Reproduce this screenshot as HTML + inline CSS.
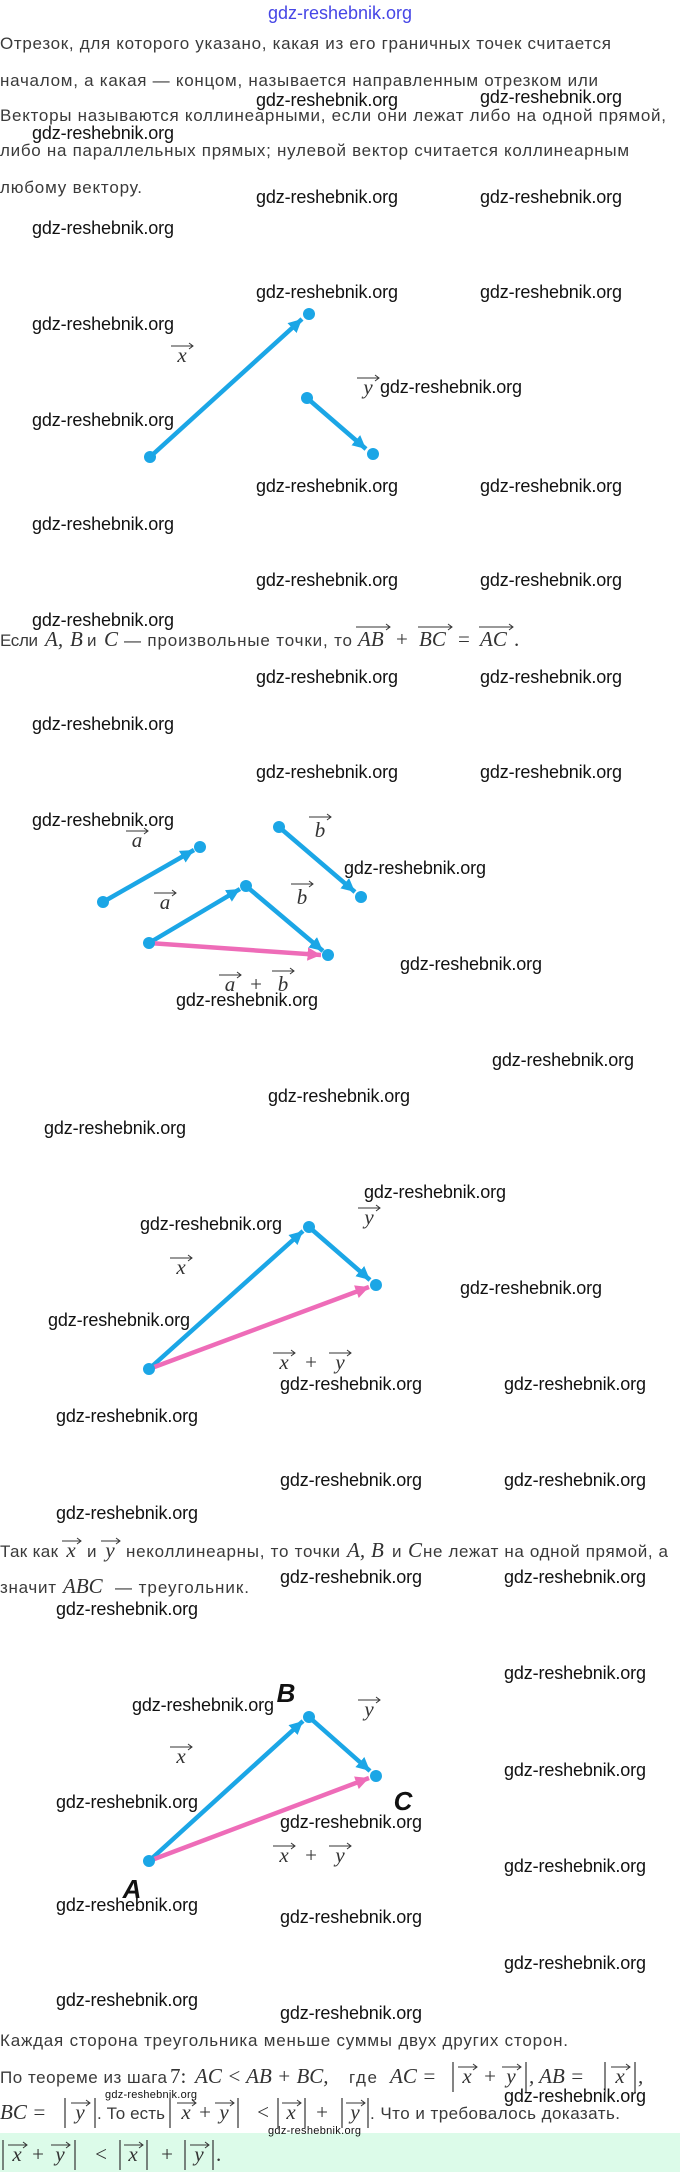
<!DOCTYPE html>
<html><head><meta charset="utf-8"><style>
html,body{margin:0;padding:0;background:#fff}
svg{display:block}
.t{font-family:"Liberation Sans",sans-serif;font-size:17px;fill:#3a3a3a}
.w{font-family:"Liberation Sans",sans-serif;font-size:18px;fill:#111}
.ws{font-family:"Liberation Sans",sans-serif;font-size:11px;fill:#111}
.m{font-family:"Liberation Serif",serif;font-style:italic;font-size:21px;fill:#333}
.mu{font-family:"Liberation Serif",serif;font-size:21px;fill:#333}
.lb{font-family:"Liberation Sans",sans-serif;font-style:italic;font-weight:bold;font-size:26px;fill:#111}
.ar{stroke:#333;stroke-width:1;fill:none}
.bar{stroke:#333;stroke-width:1.2}
</style></head><body>
<svg width="680" height="2172" viewBox="0 0 680 2172" xmlns="http://www.w3.org/2000/svg">
<defs>
<marker id="hb" viewBox="0 0 10 10" refX="10" refY="5" markerWidth="3" markerHeight="3" orient="auto" markerUnits="strokeWidth"><path d="M0 0 L10 5 L0 10 z" fill="#1ba6e6"/></marker>
<marker id="hp" viewBox="0 0 10 10" refX="10" refY="5" markerWidth="3" markerHeight="3" orient="auto" markerUnits="strokeWidth"><path d="M0 0 L10 5 L0 10 z" fill="#ee6cb8"/></marker>
</defs>
<rect x="0" y="2133" width="680" height="39" fill="#dcfbe9"/>

<text x="340" y="19" text-anchor="middle" font-family="Liberation Sans" font-size="18" fill="#4646e6" textLength="144">gdz-reshebnik.org</text>

<text class="t" x="0" y="49" textLength="611">Отрезок, для которого указано, какая из его граничных точек считается</text>
<text class="t" x="0" y="86" textLength="598">началом, а какая — концом, называется направленным отрезком или</text>
<text class="t" x="0" y="121" textLength="666">Векторы называются коллинеарными, если они лежат либо на одной прямой,</text>
<text class="t" x="0" y="156" textLength="629">либо на параллельных прямых; нулевой вектор считается коллинеарным</text>
<text class="t" x="0" y="193" textLength="142">любому вектору.</text>

<!-- fig1 -->
<g stroke="#1ba6e6" stroke-width="4.5" fill="#1ba6e6">
<line x1="150" y1="457" x2="302" y2="319" marker-end="url(#hb)"/>
<line x1="307" y1="398" x2="366" y2="449" marker-end="url(#hb)"/>
<circle cx="150" cy="457" r="6" stroke="none"/><circle cx="309" cy="314" r="6" stroke="none"/>
<circle cx="307" cy="398" r="6" stroke="none"/><circle cx="373" cy="454" r="6" stroke="none"/>
</g>
<text class="m" x="182" y="362" text-anchor="middle">x</text><path class="ar" d="M171 346 H193 M189 343 L193 346 L189 349"/>
<text class="m" x="368" y="394" text-anchor="middle">y</text><path class="ar" d="M357 378 H379 M375 375 L379 378 L375 381"/>

<text class="t" x="0" y="646" textLength="38">Если</text>
<text class="m" x="45" y="646">A,</text><text class="m" x="70" y="646">B</text>
<text class="t" x="87" y="646">и</text><text class="m" x="104" y="646">C</text>
<text class="t" x="124" y="646" textLength="228">— произвольные точки, то</text>
<text class="m" x="358" y="646">AB</text><path class="ar" d="M356 627 H390 M386 624 L390 627 L386 630"/>
<text class="mu" x="396" y="646">+</text>
<text class="m" x="419" y="646">BC</text><path class="ar" d="M418 627 H452 M448 624 L452 627 L448 630"/>
<text class="mu" x="458" y="646">=</text>
<text class="m" x="480" y="646">AC</text><path class="ar" d="M479 627 H513 M509 624 L513 627 L509 630"/>
<text class="mu" x="514" y="646">.</text>

<!-- fig2 -->
<g stroke-width="4.5">
<line x1="103" y1="902" x2="194" y2="850" stroke="#1ba6e6" marker-end="url(#hb)"/>
<line x1="279" y1="827" x2="355" y2="892" stroke="#1ba6e6" marker-end="url(#hb)"/>
<line x1="149" y1="943" x2="240" y2="889" stroke="#1ba6e6" marker-end="url(#hb)"/>
<line x1="246" y1="886" x2="323" y2="951" stroke="#1ba6e6" marker-end="url(#hb)"/>
<line x1="149" y1="943" x2="321" y2="955" stroke="#ee6cb8" marker-end="url(#hp)"/>
</g>
<g fill="#1ba6e6">
<circle cx="103" cy="902" r="6"/><circle cx="200" cy="847" r="6"/>
<circle cx="279" cy="827" r="6"/><circle cx="361" cy="897" r="6"/>
<circle cx="149" cy="943" r="6"/><circle cx="246" cy="886" r="6"/><circle cx="328" cy="955" r="6"/>
</g>
<text class="m" x="137" y="847" text-anchor="middle">a</text><path class="ar" d="M126 831 H148 M144 828 L148 831 L144 834"/>
<text class="m" x="165" y="909" text-anchor="middle">a</text><path class="ar" d="M154 893 H176 M172 890 L176 893 L172 896"/>
<text class="m" x="320" y="837" text-anchor="middle">b</text><path class="ar" d="M309 817 H331 M327 814 L331 817 L327 820"/>
<text class="m" x="302" y="904" text-anchor="middle">b</text><path class="ar" d="M291 884 H313 M309 881 L313 884 L309 887"/>
<text class="m" x="230" y="991" text-anchor="middle">a</text><path class="ar" d="M219 975 H241 M237 972 L241 975 L237 978"/>
<text class="mu" x="256" y="991" text-anchor="middle">+</text>
<text class="m" x="283" y="991" text-anchor="middle">b</text><path class="ar" d="M272 971 H294 M290 968 L294 971 L290 974"/>

<!-- fig3 -->
<g stroke-width="4.5">
<line x1="149" y1="1369" x2="303" y2="1231" stroke="#1ba6e6" marker-end="url(#hb)"/>
<line x1="309" y1="1227" x2="370" y2="1280" stroke="#1ba6e6" marker-end="url(#hb)"/>
<line x1="149" y1="1369" x2="369" y2="1287" stroke="#ee6cb8" marker-end="url(#hp)"/>
</g>
<g fill="#1ba6e6"><circle cx="149" cy="1369" r="6"/><circle cx="309" cy="1227" r="6"/><circle cx="376" cy="1285" r="6"/></g>
<text class="m" x="181" y="1274" text-anchor="middle">x</text><path class="ar" d="M170 1258 H192 M188 1255 L192 1258 L188 1261"/>
<text class="m" x="369" y="1224" text-anchor="middle">y</text><path class="ar" d="M358 1208 H380 M376 1205 L380 1208 L376 1211"/>
<text class="m" x="284" y="1369" text-anchor="middle">x</text><path class="ar" d="M273 1353 H295 M291 1350 L295 1353 L291 1356"/>
<text class="mu" x="311" y="1369" text-anchor="middle">+</text>
<text class="m" x="340" y="1369" text-anchor="middle">y</text><path class="ar" d="M329 1353 H351 M347 1350 L351 1353 L347 1356"/>

<text class="t" x="0" y="1557" textLength="58">Так как</text>
<text class="m" x="71" y="1557" text-anchor="middle">x</text><path class="ar" d="M62 1541 H81 M77 1538 L81 1541 L77 1544"/>
<text class="t" x="87" y="1557">и</text>
<text class="m" x="110" y="1557" text-anchor="middle">y</text><path class="ar" d="M101 1541 H120 M116 1538 L120 1541 L116 1544"/>
<text class="t" x="126" y="1557" textLength="214">неколлинеарны, то точки</text>
<text class="m" x="347" y="1557">A,</text><text class="m" x="371" y="1557">B</text>
<text class="t" x="392" y="1557">и</text><text class="m" x="408" y="1557">C</text>
<text class="t" x="423" y="1557" textLength="245">не лежат на одной прямой, а</text>
<text class="t" x="0" y="1593" textLength="56">значит</text>
<text class="m" x="63" y="1593">ABC</text>
<text class="t" x="115" y="1593" textLength="134">— треугольник.</text>

<!-- fig4 -->
<g stroke-width="4.5">
<line x1="149" y1="1861" x2="303" y2="1721" stroke="#1ba6e6" marker-end="url(#hb)"/>
<line x1="309" y1="1717" x2="370" y2="1771" stroke="#1ba6e6" marker-end="url(#hb)"/>
<line x1="149" y1="1861" x2="369" y2="1778" stroke="#ee6cb8" marker-end="url(#hp)"/>
</g>
<g fill="#1ba6e6"><circle cx="149" cy="1861" r="6"/><circle cx="309" cy="1717" r="6"/><circle cx="376" cy="1776" r="6"/></g>
<text class="lb" x="286" y="1702" text-anchor="middle">B</text>
<text class="lb" x="403" y="1810" text-anchor="middle">C</text>
<text class="lb" x="132" y="1898" text-anchor="middle">A</text>
<text class="m" x="181" y="1763" text-anchor="middle">x</text><path class="ar" d="M170 1747 H192 M188 1744 L192 1747 L188 1750"/>
<text class="m" x="369" y="1716" text-anchor="middle">y</text><path class="ar" d="M358 1700 H380 M376 1697 L380 1700 L376 1703"/>
<text class="m" x="284" y="1862" text-anchor="middle">x</text><path class="ar" d="M273 1846 H295 M291 1843 L295 1846 L291 1849"/>
<text class="mu" x="311" y="1862" text-anchor="middle">+</text>
<text class="m" x="340" y="1862" text-anchor="middle">y</text><path class="ar" d="M329 1846 H351 M347 1843 L351 1846 L347 1849"/>

<!-- final text -->
<text class="t" x="0" y="2046" textLength="568">Каждая сторона треугольника меньше суммы двух других сторон.</text>
<text class="t" x="0" y="2083" textLength="167">По теореме из шага</text>
<text class="mu" x="170" y="2083">7:</text>
<text class="m" x="195" y="2083">AC &lt; AB + BC,</text>
<text class="t" x="349" y="2083" textLength="28">где</text>
<text class="m" x="390" y="2083">AC =</text>
<line class="bar" x1="453" y1="2062" x2="453" y2="2092"/>
<text class="m" x="467" y="2083" text-anchor="middle">x</text><path class="ar" d="M458 2067 H477 M473 2064 L477 2067 L473 2070"/>
<text class="mu" x="490" y="2083" text-anchor="middle">+</text>
<text class="m" x="511" y="2083" text-anchor="middle">y</text><path class="ar" d="M502 2067 H521 M517 2064 L521 2067 L517 2070"/>
<line class="bar" x1="526" y1="2062" x2="526" y2="2092"/>
<text class="m" x="529" y="2083">, AB =</text>
<line class="bar" x1="605" y1="2062" x2="605" y2="2092"/>
<text class="m" x="620" y="2083" text-anchor="middle">x</text><path class="ar" d="M611 2067 H630 M626 2064 L630 2067 L626 2070"/>
<line class="bar" x1="635" y1="2062" x2="635" y2="2092"/>
<text class="m" x="638" y="2083">,</text>

<text class="m" x="0" y="2119">BC =</text>
<line class="bar" x1="65" y1="2098" x2="65" y2="2128"/>
<text class="m" x="80" y="2119" text-anchor="middle">y</text><path class="ar" d="M71 2103 H90 M86 2100 L90 2103 L86 2106"/>
<line class="bar" x1="95" y1="2098" x2="95" y2="2128"/>
<text class="t" x="97" y="2119" textLength="68">. То есть</text>
<line class="bar" x1="170" y1="2098" x2="170" y2="2128"/>
<text class="m" x="186" y="2119" text-anchor="middle">x</text><path class="ar" d="M177 2103 H196 M192 2100 L196 2103 L192 2106"/>
<text class="mu" x="205" y="2119" text-anchor="middle">+</text>
<text class="m" x="224" y="2119" text-anchor="middle">y</text><path class="ar" d="M215 2103 H234 M230 2100 L234 2103 L230 2106"/>
<line class="bar" x1="238" y1="2098" x2="238" y2="2128"/>
<text class="mu" x="263" y="2119" text-anchor="middle">&lt;</text>
<line class="bar" x1="278" y1="2098" x2="278" y2="2128"/>
<text class="m" x="291" y="2119" text-anchor="middle">x</text><path class="ar" d="M282 2103 H301 M297 2100 L301 2103 L297 2106"/>
<line class="bar" x1="305" y1="2098" x2="305" y2="2128"/>
<text class="mu" x="322" y="2119" text-anchor="middle">+</text>
<line class="bar" x1="342" y1="2098" x2="342" y2="2128"/>
<text class="m" x="355" y="2119" text-anchor="middle">y</text><path class="ar" d="M346 2103 H365 M361 2100 L365 2103 L361 2106"/>
<line class="bar" x1="368" y1="2098" x2="368" y2="2128"/>
<text class="t" x="370" y="2119" textLength="250">. Что и требовалось доказать.</text>

<line class="bar" x1="3" y1="2140" x2="3" y2="2170"/>
<text class="m" x="17" y="2161" text-anchor="middle">x</text><path class="ar" d="M8 2145 H27 M23 2142 L27 2145 L23 2148"/>
<text class="mu" x="38" y="2161" text-anchor="middle">+</text>
<text class="m" x="60" y="2161" text-anchor="middle">y</text><path class="ar" d="M51 2145 H70 M66 2142 L70 2145 L66 2148"/>
<line class="bar" x1="75" y1="2140" x2="75" y2="2170"/>
<text class="mu" x="101" y="2161" text-anchor="middle">&lt;</text>
<line class="bar" x1="120" y1="2140" x2="120" y2="2170"/>
<text class="m" x="133" y="2161" text-anchor="middle">x</text><path class="ar" d="M124 2145 H143 M139 2142 L143 2145 L139 2148"/>
<line class="bar" x1="147" y1="2140" x2="147" y2="2170"/>
<text class="mu" x="167" y="2161" text-anchor="middle">+</text>
<line class="bar" x1="185" y1="2140" x2="185" y2="2170"/>
<text class="m" x="199" y="2161" text-anchor="middle">y</text><path class="ar" d="M190 2145 H209 M205 2142 L209 2145 L205 2148"/>
<line class="bar" x1="213" y1="2140" x2="213" y2="2170"/>
<text class="mu" x="216" y="2161">.</text>

<!-- watermarks -->
<g class="w">
<text x="256" y="106" textLength="142">gdz-reshebnik.org</text>
<text x="480" y="103" textLength="142">gdz-reshebnik.org</text>
<text x="32" y="139" textLength="142">gdz-reshebnik.org</text>
<text x="256" y="203" textLength="142">gdz-reshebnik.org</text>
<text x="480" y="203" textLength="142">gdz-reshebnik.org</text>
<text x="32" y="234" textLength="142">gdz-reshebnik.org</text>
<text x="256" y="298" textLength="142">gdz-reshebnik.org</text>
<text x="480" y="298" textLength="142">gdz-reshebnik.org</text>
<text x="32" y="330" textLength="142">gdz-reshebnik.org</text>
<text x="380" y="393" textLength="142">gdz-reshebnik.org</text>
<text x="32" y="426" textLength="142">gdz-reshebnik.org</text>
<text x="256" y="492" textLength="142">gdz-reshebnik.org</text>
<text x="480" y="492" textLength="142">gdz-reshebnik.org</text>
<text x="32" y="530" textLength="142">gdz-reshebnik.org</text>
<text x="256" y="586" textLength="142">gdz-reshebnik.org</text>
<text x="480" y="586" textLength="142">gdz-reshebnik.org</text>
<text x="32" y="626" textLength="142">gdz-reshebnik.org</text>
<text x="256" y="683" textLength="142">gdz-reshebnik.org</text>
<text x="480" y="683" textLength="142">gdz-reshebnik.org</text>
<text x="32" y="730" textLength="142">gdz-reshebnik.org</text>
<text x="256" y="778" textLength="142">gdz-reshebnik.org</text>
<text x="480" y="778" textLength="142">gdz-reshebnik.org</text>
<text x="32" y="826" textLength="142">gdz-reshebnik.org</text>
<text x="344" y="874" textLength="142">gdz-reshebnik.org</text>
<text x="400" y="970" textLength="142">gdz-reshebnik.org</text>
<text x="176" y="1006" textLength="142">gdz-reshebnik.org</text>
<text x="492" y="1066" textLength="142">gdz-reshebnik.org</text>
<text x="268" y="1102" textLength="142">gdz-reshebnik.org</text>
<text x="44" y="1134" textLength="142">gdz-reshebnik.org</text>
<text x="364" y="1198" textLength="142">gdz-reshebnik.org</text>
<text x="140" y="1230" textLength="142">gdz-reshebnik.org</text>
<text x="460" y="1294" textLength="142">gdz-reshebnik.org</text>
<text x="48" y="1326" textLength="142">gdz-reshebnik.org</text>
<text x="280" y="1390" textLength="142">gdz-reshebnik.org</text>
<text x="504" y="1390" textLength="142">gdz-reshebnik.org</text>
<text x="56" y="1422" textLength="142">gdz-reshebnik.org</text>
<text x="280" y="1486" textLength="142">gdz-reshebnik.org</text>
<text x="504" y="1486" textLength="142">gdz-reshebnik.org</text>
<text x="56" y="1519" textLength="142">gdz-reshebnik.org</text>
<text x="280" y="1583" textLength="142">gdz-reshebnik.org</text>
<text x="504" y="1583" textLength="142">gdz-reshebnik.org</text>
<text x="56" y="1615" textLength="142">gdz-reshebnik.org</text>
<text x="504" y="1679" textLength="142">gdz-reshebnik.org</text>
<text x="132" y="1711" textLength="142">gdz-reshebnik.org</text>
<text x="504" y="1776" textLength="142">gdz-reshebnik.org</text>
<text x="56" y="1808" textLength="142">gdz-reshebnik.org</text>
<text x="280" y="1828" textLength="142">gdz-reshebnik.org</text>
<text x="504" y="1872" textLength="142">gdz-reshebnik.org</text>
<text x="56" y="1911" textLength="142">gdz-reshebnik.org</text>
<text x="280" y="1923" textLength="142">gdz-reshebnik.org</text>
<text x="504" y="1969" textLength="142">gdz-reshebnik.org</text>
<text x="56" y="2006" textLength="142">gdz-reshebnik.org</text>
<text x="280" y="2019" textLength="142">gdz-reshebnik.org</text>
<text x="504" y="2102" textLength="142">gdz-reshebnik.org</text>
</g>
<text class="ws" x="105" y="2098" textLength="92">gdz-reshebnik.org</text>
<text class="ws" x="268" y="2134" textLength="93">gdz-reshebnik.org</text>
</svg>
</body></html>
